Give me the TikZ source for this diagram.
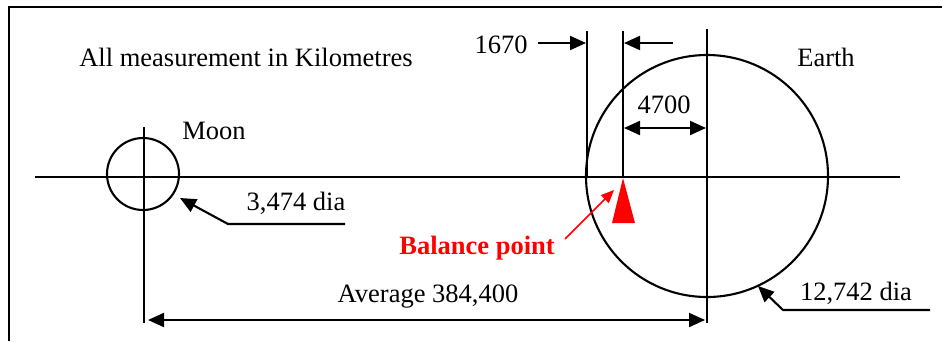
\documentclass[tikz,border=0pt]{standalone}
\usepackage{fontspec}
\setmainfont{Liberation Serif}
\usetikzlibrary{arrows.meta}
\begin{document}
\begin{tikzpicture}[x=1pt,y=-1pt,
  ln/.style={line width=2.1pt},
  tip/.style={-{Triangle[length=16pt,width=14pt]}},
  dbl/.style={{Triangle[length=16pt,width=14pt]}-{Triangle[length=16pt,width=14pt]}},
  lbl/.style={font=\fontsize{26.5}{30}\selectfont, inner sep=0pt}]
\useasboundingbox (0,0) rectangle (942,341);
% frame
\draw[ln] (9,341) -- (9,7) -- (942,7);
% axis
\coordinate (axL) at (35,177);
\coordinate (axR) at (900,177);
\draw[ln] (axL) -- (axR);
% moon
\node[draw, circle, line width=2.1pt, minimum size=72pt, inner sep=0pt] (moon) at (143,174) {};
\coordinate (mT) at (144,127);
\coordinate (mB) at (144,323);
\draw[ln] (mT) -- (mB);
% earth
\node[draw, circle, line width=2.1pt, minimum size=242pt, inner sep=0pt] (earth) at (707,176) {};
\coordinate (eT) at (707,29);
\coordinate (eB) at (707,323);
\draw[ln] (eT) -- (eB);
% balance lines
\coordinate (b1T) at (587,31);
\coordinate (b1B) at (587,178);
\coordinate (b2T) at (623,31);
\coordinate (b2B) at (623,178);
\draw[ln] (b1T) -- (b1B);
\draw[ln] (b2T) -- (b2B);
% texts
\node[lbl] (all) at (246,57) {All measurement in Kilometres};
\node[lbl] (earthl) at (826,57) {Earth};
\node[lbl] (moonl) at (214,131) {Moon};
\node[lbl] (t1670) at (501,45) {1670};
\node[lbl] (t4700) at (664,105) {4700};
\node[lbl] (tmoon) at (296,203) {3,474 dia};
\node[lbl] (tearth) at (856,293) {12,742 dia};
\node[lbl] (tavg) at (428,297) {Average 384,400};
\node[lbl, font=\fontsize{26.5}{30}\selectfont\bfseries, text=red] (bp) at (477,248) {Balance point};
% 1670 arrows
\coordinate (a1s) at (538,43);
\coordinate (a1e) at (586,43);
\coordinate (a2s) at (673,43);
\coordinate (a2e) at (624,43);
\draw[ln,tip] (a1s) -- (a1e);
\draw[ln,tip] (a2s) -- (a2e);
% 4700
\coordinate (c1) at (624,128);
\coordinate (c2) at (706,128);
\draw[ln,dbl] (c1) -- (c2);
% average
\coordinate (d1) at (148,320);
\coordinate (d2) at (705,320);
\draw[ln,dbl] (d1) -- (d2);
% moon leader
\coordinate (ml1) at (345,224);
\coordinate (ml2) at (228,224);
\coordinate (ml3) at (180,198);
\draw[ln,tip] (ml1) -- (ml2) -- (ml3);
% earth leader
\coordinate (el1) at (930,310);
\coordinate (el2) at (783,310);
\coordinate (el3) at (758,286);
\draw[ln,tip] (el1) -- (el2) -- (el3);
% balance triangle
\fill[red] (b2B) -- (635,223) -- (612,223) -- cycle;
% red arrow
\coordinate (r1) at (565,239);
\coordinate (r2) at (614,190);
\draw[red, line width=1.6pt, -{Triangle[length=13pt,width=11pt]}] (r1) -- (r2);
\end{tikzpicture}
\end{document}
